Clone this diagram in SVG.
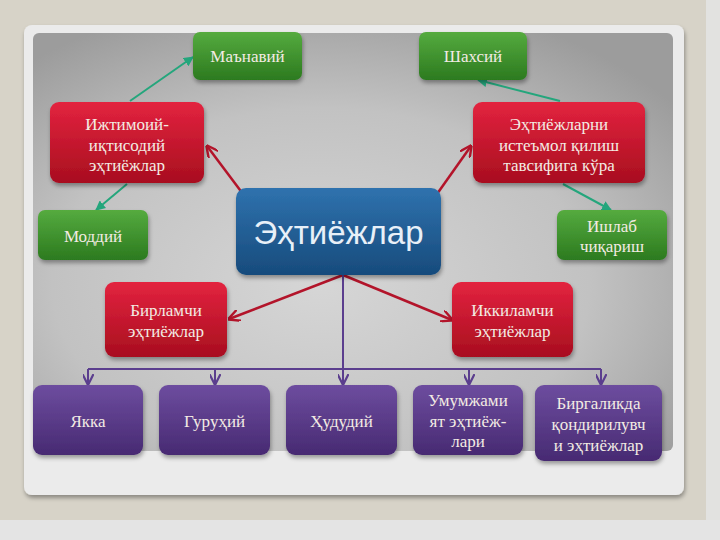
<svg xmlns="http://www.w3.org/2000/svg" width="720" height="540" viewBox="0 0 720 540">
<defs>
<style>
.t{font-family:"Liberation Serif","Times New Roman",serif;font-size:17px;fill:#f3ebe3;text-anchor:middle}
.big{font-family:"Liberation Sans",Arial,sans-serif;font-size:33px;fill:#e8f0f8;text-anchor:middle}
.red{stroke:#b3142a;stroke-width:2.5;fill:none}
.grn{stroke:#24a67c;stroke-width:2;fill:none}
.pur{stroke:#5b3e8e;stroke-width:2;fill:none}
</style>
<linearGradient id="gG" x1="0" y1="0" x2="0" y2="1"><stop offset="0" stop-color="#55ab3f"/><stop offset="1" stop-color="#2c7a1f"/></linearGradient>
<linearGradient id="gR" x1="0" y1="0" x2="0" y2="1"><stop offset="0" stop-color="#e3233f"/><stop offset="1" stop-color="#a80e1f"/></linearGradient>
<linearGradient id="gB" x1="0" y1="0" x2="0" y2="1"><stop offset="0" stop-color="#2f72ae"/><stop offset="1" stop-color="#174b7c"/></linearGradient>
<linearGradient id="gP" x1="0" y1="0" x2="0" y2="1"><stop offset="0" stop-color="#6d4d9f"/><stop offset="1" stop-color="#472a72"/></linearGradient>
<radialGradient id="panel" cx="0.45" cy="0.6" r="0.7"><stop offset="0" stop-color="#d6d6d6"/><stop offset="0.6" stop-color="#c2c2c2"/><stop offset="1" stop-color="#9c9c9c"/></radialGradient>
<filter id="sh" x="-10%" y="-10%" width="130%" height="140%"><feDropShadow dx="1" dy="3" stdDeviation="2" flood-color="#000" flood-opacity="0.35"/></filter>
<marker id="aR" viewBox="0 0 10 10" refX="9" refY="5" markerWidth="12" markerHeight="12" markerUnits="userSpaceOnUse" orient="auto"><path d="M0,0 L10,5 L0,10" fill="none" stroke="#b3142a" stroke-width="2"/></marker>
<marker id="aG" viewBox="0 0 10 10" refX="9" refY="5" markerWidth="10" markerHeight="10" markerUnits="userSpaceOnUse" orient="auto"><path d="M0,0 L10,5 L0,10 z" fill="#24a67c"/></marker>
<marker id="aP" viewBox="0 0 10 10" refX="9" refY="5" markerWidth="11" markerHeight="11" markerUnits="userSpaceOnUse" orient="auto"><path d="M0,0 L10,5 L0,10" fill="none" stroke="#5b3e8e" stroke-width="2"/></marker>
</defs>
<rect x="0" y="0" width="720" height="540" fill="#d7d3c8"/>
<rect x="0" y="520" width="720" height="20" fill="#e4e4e4"/>
<rect x="706" y="0" width="14" height="520" fill="#e2e2e0"/>
<rect x="24" y="25" width="660" height="470" rx="8" fill="#ebebeb" filter="url(#sh)"/>
<rect x="33" y="33" width="640" height="418" rx="6" fill="url(#panel)"/>

<g id="connectors">
<line class="red" x1="243" y1="194" x2="207" y2="146" marker-end="url(#aR)"/>
<line class="red" x1="437" y1="194" x2="471" y2="146" marker-end="url(#aR)"/>
<line class="red" x1="343" y1="275" x2="229" y2="319" marker-end="url(#aR)"/>
<line class="red" x1="343" y1="275" x2="452" y2="320" marker-end="url(#aR)"/>
<line class="grn" x1="130" y1="101" x2="193" y2="57" marker-end="url(#aG)"/>
<line class="grn" x1="127" y1="184" x2="96" y2="210" marker-end="url(#aG)"/>
<line class="grn" x1="560" y1="101" x2="478" y2="80" marker-end="url(#aG)"/>
<line class="grn" x1="563" y1="184" x2="611" y2="210" marker-end="url(#aG)"/>
<line class="pur" x1="343" y1="275" x2="343" y2="384" marker-end="url(#aP)"/>
<line class="pur" x1="88" y1="369" x2="601" y2="369"/>
<line class="pur" x1="88" y1="369" x2="88" y2="384" marker-end="url(#aP)"/>
<line class="pur" x1="215" y1="369" x2="215" y2="384" marker-end="url(#aP)"/>
<line class="pur" x1="469" y1="369" x2="469" y2="384" marker-end="url(#aP)"/>
<line class="pur" x1="601" y1="369" x2="601" y2="384" marker-end="url(#aP)"/>
</g>

<g id="n-manaviy"><rect x="193" y="32" width="109" height="48" rx="7" fill="url(#gG)" filter="url(#sh)"/><text class="t" x="247.5" y="62">Маънавий</text></g>
<g id="n-shaxsiy"><rect x="419" y="32" width="108" height="48" rx="7" fill="url(#gG)" filter="url(#sh)"/><text class="t" x="473" y="62">Шахсий</text></g>
<g id="n-ijtimoiy"><rect x="50" y="102" width="154" height="81" rx="9" fill="url(#gR)" filter="url(#sh)"/><text class="t" x="127" y="130">Ижтимоий-</text><text class="t" x="127" y="151">иқтисодий</text><text class="t" x="127" y="171">эҳтиёжлар</text></g>
<g id="n-istemol"><rect x="473" y="102" width="172" height="81" rx="9" fill="url(#gR)" filter="url(#sh)"/><text class="t" x="559" y="130">Эҳтиёжларни</text><text class="t" x="559" y="151">истеъмол қилиш</text><text class="t" x="559" y="171">тавсифига кўра</text></g>
<g id="n-moddiy"><rect x="38" y="210" width="110" height="50" rx="7" fill="url(#gG)" filter="url(#sh)"/><text class="t" x="93" y="242">Моддий</text></g>
<g id="n-ishlab"><rect x="557" y="210" width="110" height="50" rx="7" fill="url(#gG)" filter="url(#sh)"/><text class="t" x="612" y="232">Ишлаб</text><text class="t" x="612" y="252">чиқариш</text></g>
<g id="n-ehtiyojlar"><rect x="236" y="188" width="205" height="87" rx="10" fill="url(#gB)" filter="url(#sh)"/><text class="big" x="338.5" y="244">Эҳтиёжлар</text></g>
<g id="n-birlamchi"><rect x="105" y="282" width="122" height="75" rx="9" fill="url(#gR)" filter="url(#sh)"/><text class="t" x="166" y="316">Бирламчи</text><text class="t" x="166" y="337">эҳтиёжлар</text></g>
<g id="n-ikkilamchi"><rect x="452" y="282" width="121" height="75" rx="9" fill="url(#gR)" filter="url(#sh)"/><text class="t" x="512.5" y="316">Иккиламчи</text><text class="t" x="512.5" y="337">эҳтиёжлар</text></g>
<g id="n-yakka"><rect x="33" y="385" width="110" height="70" rx="9" fill="url(#gP)" filter="url(#sh)"/><text class="t" x="88" y="427">Якка</text></g>
<g id="n-guruhiy"><rect x="159" y="385" width="111" height="70" rx="9" fill="url(#gP)" filter="url(#sh)"/><text class="t" x="214.5" y="427">Гуруҳий</text></g>
<g id="n-hududiy"><rect x="286" y="385" width="111" height="70" rx="9" fill="url(#gP)" filter="url(#sh)"/><text class="t" x="341.5" y="427">Ҳудудий</text></g>
<g id="n-umum"><rect x="413" y="385" width="110" height="70" rx="9" fill="url(#gP)" filter="url(#sh)"/><text class="t" x="468" y="406">Умумжами</text><text class="t" x="468" y="427">ят эҳтиёж-</text><text class="t" x="468" y="447">лари</text></g>
<g id="n-birgalikda"><rect x="535" y="385" width="127" height="76" rx="9" fill="url(#gP)" filter="url(#sh)"/><text class="t" x="598.5" y="409">Биргаликда</text><text class="t" x="598.5" y="430">қондирилувч</text><text class="t" x="598.5" y="451">и эҳтиёжлар</text></g>
</svg>
